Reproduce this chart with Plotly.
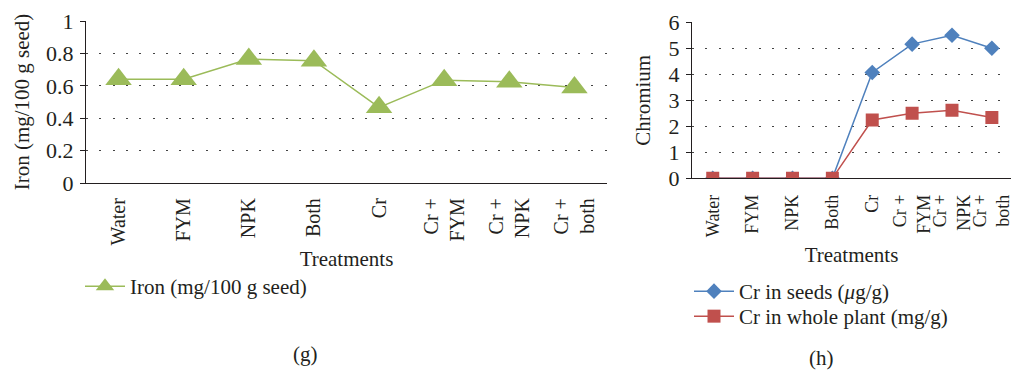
import plotly.graph_objects as go

# Treatment groups (tick labels) and measured values
treatments_g = ["Water", "FYM", "NPK", "Both", "Cr", "Cr +<br>FYM", "Cr +<br>NPK", "Cr +<br>both"]
treatments_h = ["Water", "FYM", "NPK", "Both", "Cr", "Cr +<br>FYM", "Cr +<br>NPK", "Cr +<br>both"]

iron_seed = [0.64, 0.64, 0.765, 0.755, 0.467, 0.635, 0.625, 0.59]
cr_seeds = [0, 0, 0, 0, 4.07, 5.16, 5.50, 5.00]
cr_plant = [0, 0, 0, 0, 2.24, 2.50, 2.62, 2.34]

W, H = 1011, 371
FONT = "Liberation Serif, Times New Roman, serif"
TXT = "#231f20"
GREEN, BLUE, RED = "#9bbb59", "#4f81bd", "#c0504d"

fig = go.Figure()

fig.add_trace(go.Scatter(
    x=list(range(len(treatments_g))), y=iron_seed, mode="lines+markers",
    name="Iron (mg/100 g seed)", xaxis="x", yaxis="y", legend="legend",
    showlegend=True,
    line=dict(color=GREEN, width=1.5),
    marker=dict(symbol="triangle-up", size=23, color=GREEN),
))
fig.add_trace(go.Scatter(
    x=list(range(len(treatments_h))), y=cr_seeds, mode="lines+markers",
    name="Cr in seeds (<i>μ</i>g/g)", xaxis="x2", yaxis="y2", legend="legend2",
    showlegend=True,
    line=dict(color=BLUE, width=1.5),
    marker=dict(symbol="diamond", size=12, color=BLUE),
))
fig.add_trace(go.Scatter(
    x=list(range(len(treatments_h))), y=cr_plant, mode="lines+markers",
    name="Cr in whole plant (mg/g)", xaxis="x2", yaxis="y2", legend="legend3",
    showlegend=True,
    line=dict(color=RED, width=1.5),
    marker=dict(symbol="square", size=13, color=RED),
))

axis_line = dict(showline=True, linecolor="#231f20", linewidth=1.3,
                 zeroline=False, automargin=False)
grid = dict(showgrid=True, gridcolor="#444444", gridwidth=1, griddash="2px,11.3px")
ytickfont = dict(family=FONT, size=22, color=TXT)
titlefont = dict(family=FONT, size=21, color=TXT)
legfont = dict(family=FONT, size=21, color=TXT)
leg_common = dict(xanchor="left", yanchor="top", font=legfont,
                  bgcolor="rgba(0,0,0,0)", itemwidth=40)

fig.update_layout(
    width=W, height=H,
    margin=dict(l=0, r=0, t=0, b=0, autoexpand=False),
    paper_bgcolor="white", plot_bgcolor="white", showlegend=True,
    font=dict(family=FONT, size=21, color=TXT),
    xaxis=dict(
        domain=[86 / W, 607 / W], anchor="y",
        range=[-0.5, 7.5], tickmode="array",
        tickvals=list(range(len(treatments_g))), ticktext=treatments_g,
        tickangle=-90, ticks="", showgrid=False,
        tickfont=dict(family=FONT, size=20, color=TXT),
        ticklabelstandoff=6, ticklabeloverflow="allow",
        title=dict(text="Treatments", font=titlefont, standoff=6),
        **axis_line,
    ),
    yaxis=dict(
        domain=[(H - 183) / H, (H - 21) / H], anchor="x",
        range=[0, 1], dtick=0.2, ticks="outside", ticklen=5,
        tickcolor="#231f20", tickfont=ytickfont, ticklabelstandoff=2,
        title=dict(text="Iron (mg/100 g seed)", font=titlefont, standoff=10),
        **axis_line, **grid,
    ),
    xaxis2=dict(
        domain=[692 / W, 1.0], anchor="y2",
        range=[-0.52, 7.48], tickmode="array",
        tickvals=list(range(len(treatments_h))), ticktext=treatments_h,
        tickangle=-90, ticks="", showgrid=False,
        tickfont=dict(family=FONT, size=18, color=TXT),
        ticklabelstandoff=8, ticklabeloverflow="allow",
        title=dict(text="Treatments", font=titlefont, standoff=11),
        **axis_line,
    ),
    yaxis2=dict(
        domain=[(H - 178.3) / H, (H - 22.3) / H], anchor="x2",
        range=[0, 6], dtick=1, ticks="outside", ticklen=5,
        tickcolor="#231f20", tickfont=ytickfont, ticklabelstandoff=2,
        title=dict(text="Chromium", font=titlefont, standoff=12),
        **axis_line, **grid,
    ),
    legend=dict(x=80 / W, y=1 - 266 / H, **leg_common),
    legend2=dict(x=689 / W, y=1 - 271 / H, **leg_common),
    legend3=dict(x=689 / W, y=1 - 296 / H, **leg_common),
    annotations=[
        dict(text="(g)", x=305 / W, y=1 - 354 / H, xref="paper", yref="paper",
             xanchor="center", yanchor="middle", showarrow=False,
             font=dict(family=FONT, size=21, color=TXT)),
        dict(text="(h)", x=821 / W, y=1 - 358 / H, xref="paper", yref="paper",
             xanchor="center", yanchor="middle", showarrow=False,
             font=dict(family=FONT, size=21, color=TXT)),
    ],
)

fig.write_html("out.html")
